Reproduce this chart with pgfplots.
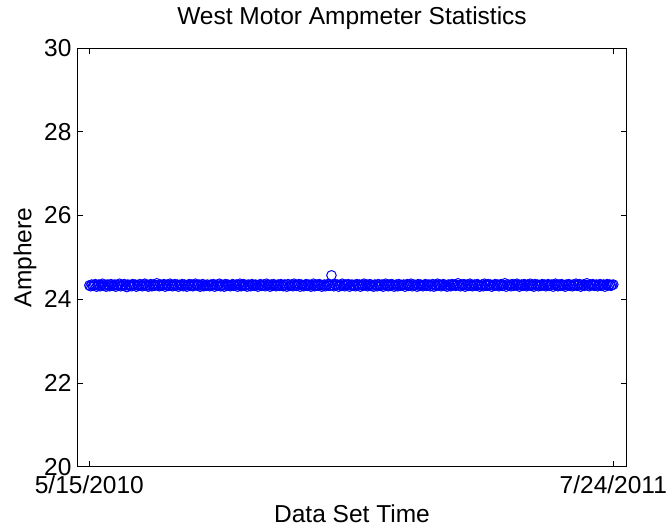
\documentclass[border=0pt]{standalone}
\usepackage{pgfplots}
\usepackage{pgfplotstable}
\usepackage{fontspec}
\setmainfont{Liberation Sans}
\pgfplotsset{compat=1.18}
\newcommand{\lbl}{\fontsize{24.5bp}{29bp}\selectfont}
\pgfplotstableread[row sep=\\]{
y\\
24.33\\24.31\\24.35\\24.32\\24.34\\24.36\\24.30\\24.33\\24.35\\24.31\\24.34\\24.37\\24.32\\24.33\\24.30\\24.35\\24.34\\24.31\\24.36\\24.33\\
24.32\\24.35\\24.30\\24.34\\24.33\\24.37\\24.31\\24.34\\24.32\\24.36\\24.33\\24.29\\24.35\\24.32\\24.34\\24.31\\24.36\\24.33\\24.35\\24.30\\
24.34\\24.32\\24.36\\24.33\\24.31\\24.35\\24.37\\24.32\\24.34\\24.30\\24.33\\24.36\\24.31\\24.35\\24.32\\24.34\\24.38\\24.33\\24.31\\24.35\\
24.32\\24.34\\24.36\\24.30\\24.33\\24.35\\24.32\\24.37\\24.34\\24.31\\24.33\\24.36\\24.32\\24.35\\24.30\\24.34\\24.33\\24.36\\24.31\\24.35\\
24.33\\24.30\\24.34\\24.36\\24.32\\24.35\\24.31\\24.33\\24.37\\24.34\\24.32\\24.35\\24.30\\24.33\\24.36\\24.31\\24.34\\24.32\\24.35\\24.33\\
24.31\\24.35\\24.33\\24.36\\24.30\\24.34\\24.32\\24.35\\24.37\\24.31\\24.33\\24.34\\24.30\\24.36\\24.32\\24.35\\24.33\\24.31\\24.34\\24.36\\
24.32\\24.33\\24.35\\24.30\\24.34\\24.37\\24.31\\24.33\\24.36\\24.32\\24.34\\24.30\\24.35\\24.33\\24.31\\24.36\\24.34\\24.32\\24.35\\24.33\\
24.30\\24.34\\24.36\\24.32\\24.33\\24.35\\24.31\\24.37\\24.33\\24.34\\24.30\\24.35\\24.32\\24.36\\24.33\\24.31\\24.34\\24.35\\24.32\\24.36\\
24.33\\24.31\\24.35\\24.34\\24.30\\24.36\\24.32\\24.33\\24.35\\24.31\\24.37\\24.34\\24.32\\24.33\\24.36\\24.30\\24.35\\24.33\\24.31\\24.34\\
24.36\\24.32\\24.35\\24.33\\24.30\\24.34\\24.37\\24.31\\24.33\\24.35\\24.32\\24.36\\24.34\\24.30\\24.33\\24.35\\24.31\\24.34\\24.36\\24.32\\
24.33\\24.57\\24.34\\24.31\\24.36\\24.33\\24.35\\24.30\\24.34\\24.32\\24.37\\24.33\\24.31\\24.35\\24.34\\24.36\\24.30\\24.33\\24.35\\24.32\\
24.34\\24.31\\24.36\\24.33\\24.35\\24.30\\24.34\\24.32\\24.37\\24.33\\24.35\\24.31\\24.34\\24.36\\24.32\\24.33\\24.30\\24.35\\24.34\\24.31\\
24.36\\24.33\\24.32\\24.35\\24.30\\24.34\\24.37\\24.33\\24.31\\24.35\\24.32\\24.36\\24.34\\24.30\\24.33\\24.35\\24.31\\24.36\\24.32\\24.34\\
24.33\\24.35\\24.30\\24.34\\24.36\\24.32\\24.33\\24.37\\24.31\\24.35\\24.33\\24.34\\24.30\\24.36\\24.32\\24.35\\24.33\\24.31\\24.34\\24.36\\
24.32\\24.34\\24.35\\24.31\\24.33\\24.36\\24.30\\24.34\\24.32\\24.37\\24.33\\24.35\\24.31\\24.34\\24.36\\24.32\\24.33\\24.30\\24.35\\24.34\\
24.31\\24.36\\24.33\\24.35\\24.32\\24.34\\24.38\\24.33\\24.31\\24.35\\24.34\\24.36\\24.30\\24.33\\24.35\\24.32\\24.37\\24.34\\24.31\\24.33\\
24.35\\24.32\\24.36\\24.34\\24.30\\24.33\\24.35\\24.31\\24.37\\24.34\\24.32\\24.36\\24.33\\24.35\\24.30\\24.34\\24.32\\24.36\\24.33\\24.35\\
24.31\\24.34\\24.36\\24.32\\24.33\\24.38\\24.30\\24.35\\24.33\\24.34\\24.31\\24.36\\24.32\\24.35\\24.33\\24.37\\24.34\\24.30\\24.33\\24.35\\
24.32\\24.36\\24.34\\24.31\\24.35\\24.33\\24.37\\24.32\\24.34\\24.30\\24.36\\24.33\\24.35\\24.31\\24.34\\24.32\\24.36\\24.33\\24.35\\24.31\\
24.34\\24.36\\24.32\\24.33\\24.35\\24.30\\24.34\\24.37\\24.33\\24.31\\24.35\\24.32\\24.36\\24.34\\24.33\\24.30\\24.35\\24.33\\24.36\\24.32\\
24.34\\24.31\\24.35\\24.33\\24.37\\24.32\\24.34\\24.36\\24.30\\24.33\\24.35\\24.32\\24.34\\24.38\\24.33\\24.31\\24.35\\24.34\\24.36\\24.32\\
24.33\\24.35\\24.31\\24.34\\24.36\\24.32\\24.33\\24.35\\24.30\\24.34\\24.36\\24.33\\24.35\\24.32\\24.34\\24.35\\
}\amps
\definecolor{mblue}{RGB}{0,0,255}
\begin{document}
\begin{tikzpicture}
\begin{axis}[
  name=ax,
  scale only axis,
  width=549.4bp, height=418.7bp,
  xmin=-10, xmax=446.1,
  ymin=20, ymax=30,
  xtick={0,435},
  xticklabels={5/15/2010,7/24/2011},
  ytick={20,22,24,26,28,30},
  tick align=inside,
  major tick length=6bp,
  axis line style={black, line width=0.8bp},
  every tick/.style={black, line width=0.6bp},
  /pgf/number format/assume math mode=true,
  ticklabel style={font=\lbl},
  xticklabel style={anchor=base, inner sep=0pt, yshift=-27.3bp},
  yticklabel style={anchor=east, inner sep=0pt, xshift=-5.6bp},
  title={West Motor Ampmeter Statistics},
  title style={font=\lbl, at={(axis description cs:0.5,1.0413)}, anchor=base, inner sep=0pt},
  xlabel={Data Set Time},
  xlabel style={font=\lbl, at={(axis description cs:0.5,-0.1337)}, anchor=base, inner sep=0pt},
  ylabel={Amphere},
  ylabel style={font=\lbl, at={(axis description cs:-0.0837,0.5)}, anchor=base, inner sep=0pt},
]
\addplot[only marks, mark=o, mark size=4.8bp, mblue, mark options={line width=1bp}]
  table[x expr=\coordindex, y=y] {\amps};
\end{axis}
\pgfresetboundingbox
\path[use as bounding box] ([xshift=-77.3bp,yshift=-60.3bp]ax.south west) rectangle ([xshift=41.3bp,yshift=48bp]ax.north east);
\end{tikzpicture}
\end{document}
